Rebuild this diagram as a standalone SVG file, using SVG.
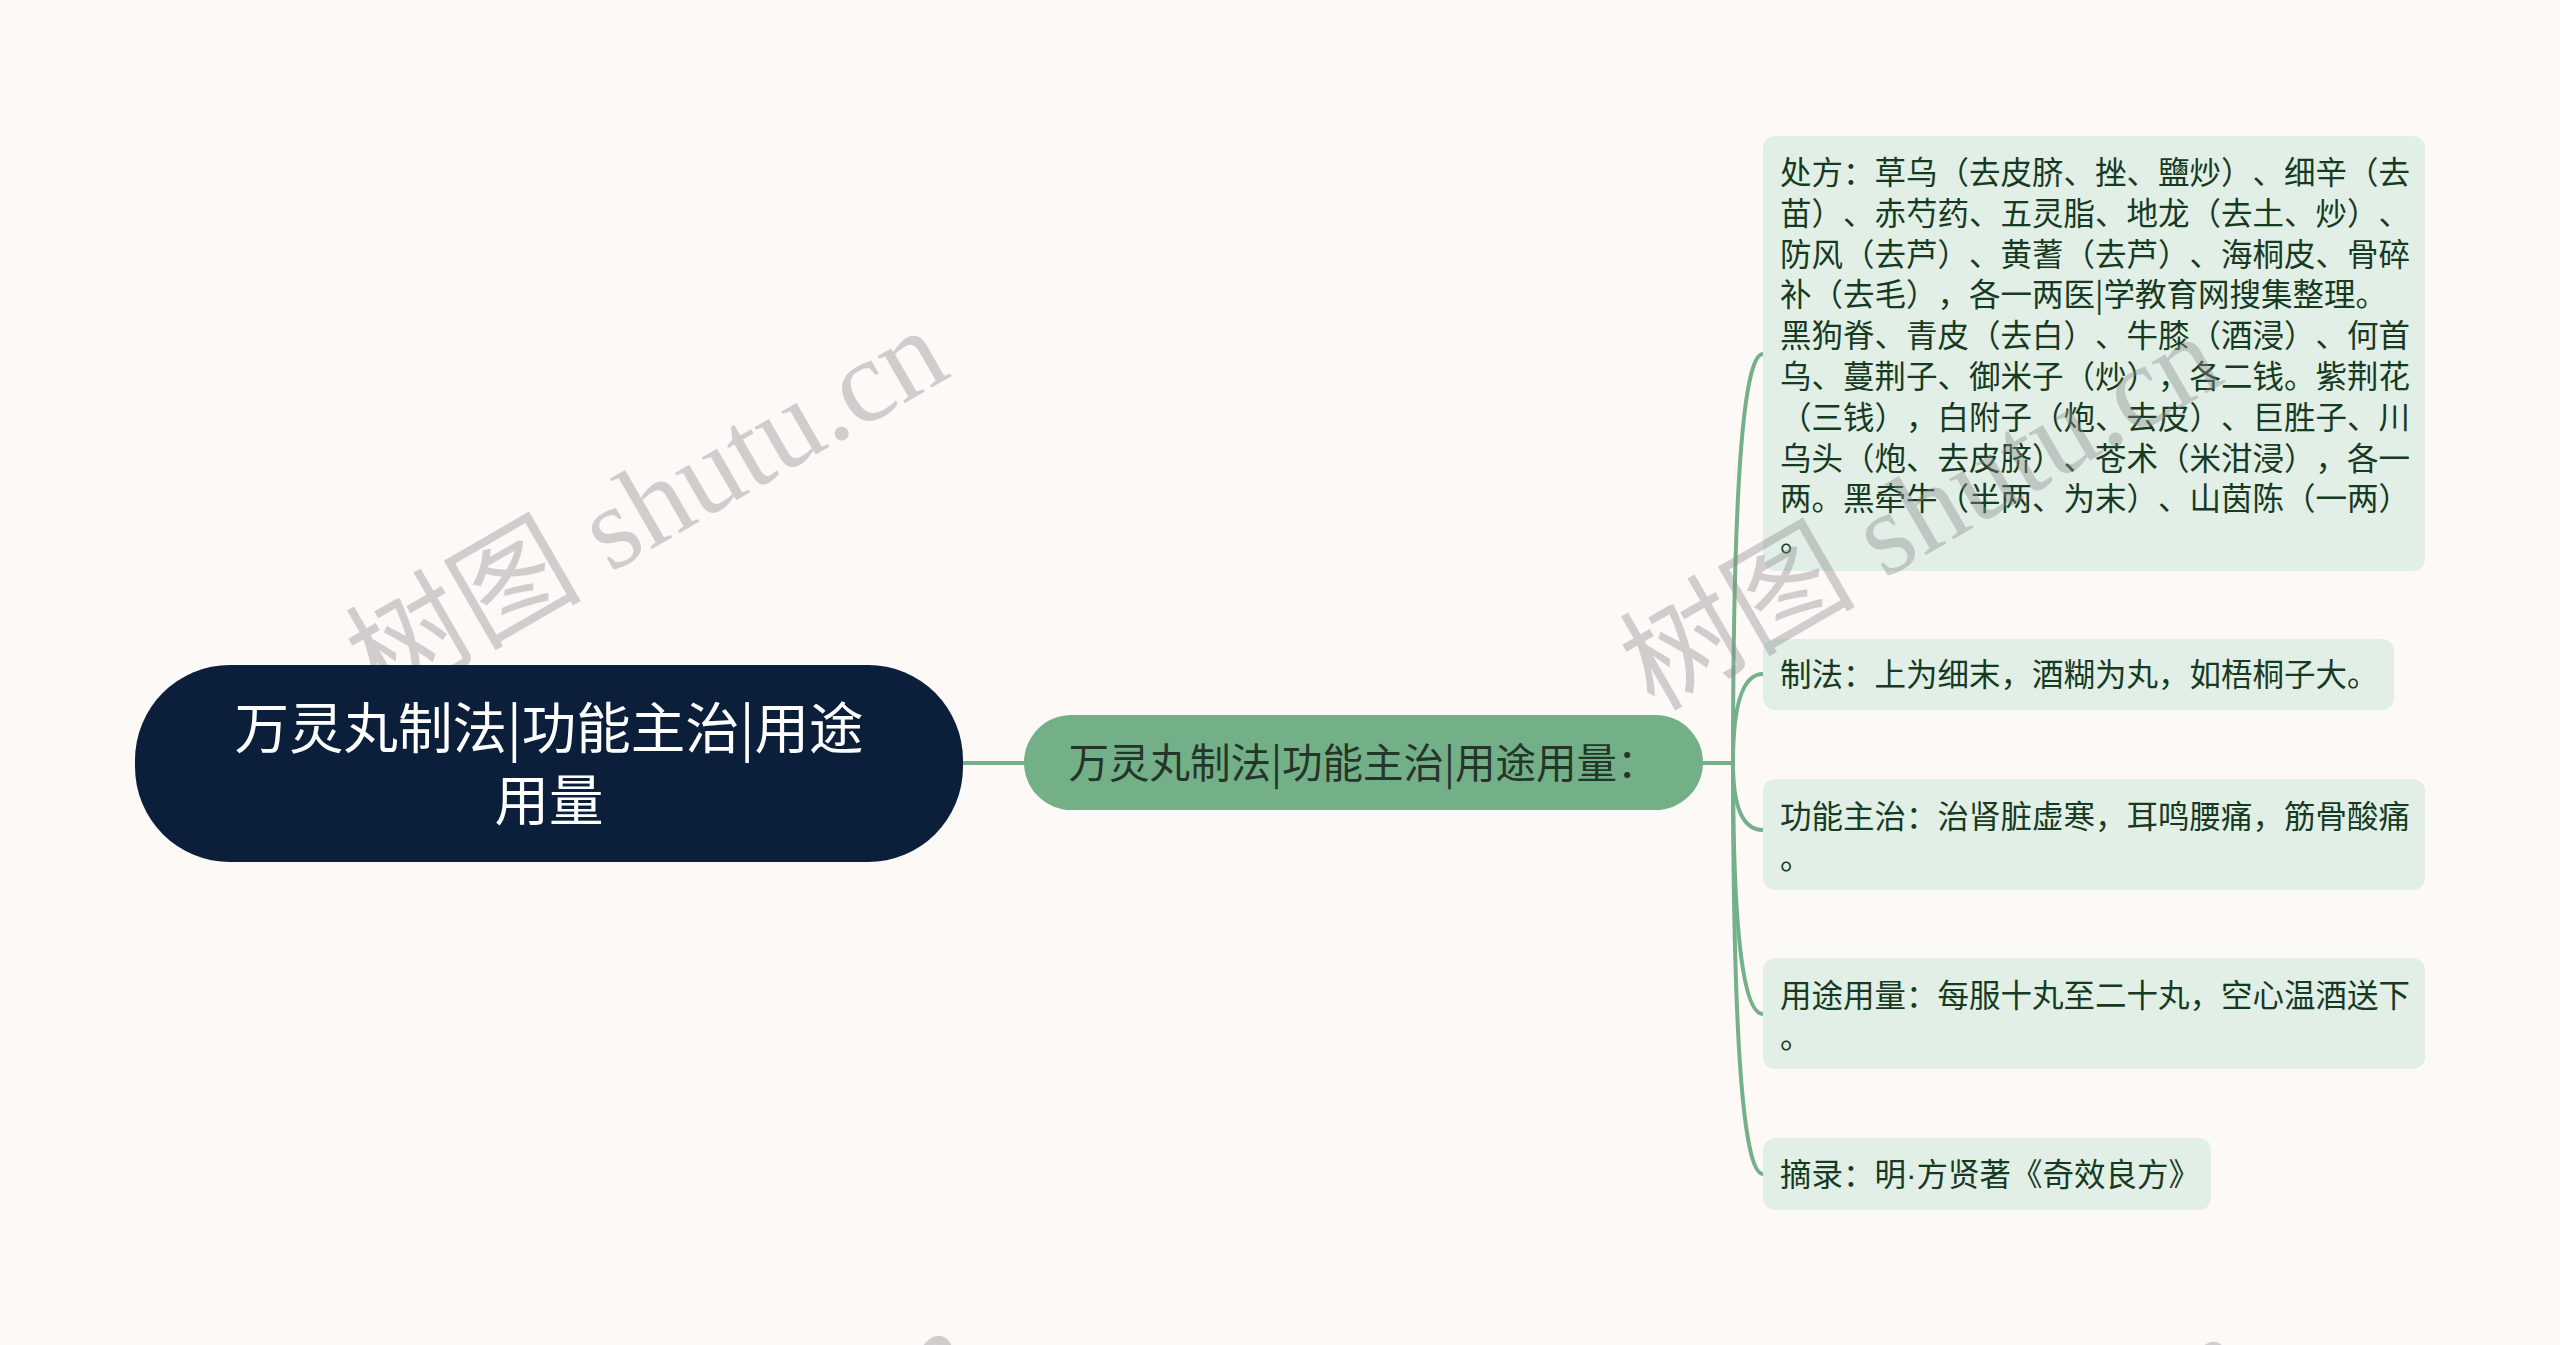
<svg xmlns="http://www.w3.org/2000/svg" width="2560" height="1345" viewBox="0 0 2560 1345">
<style>
.cjk{font-family:"Noto Sans CJK SC","Liberation Sans",sans-serif;text-spacing-trim:space-all;}
.leaf rect{fill:#e1efe6;}
.leaf text{font-size:31.5px;fill:#173a22;}
.conn{fill:none;stroke:#74b08a;stroke-width:4;stroke-linecap:round;}
.wm{font-family:"Liberation Serif","Noto Sans CJK SC",serif;font-size:118px;fill:#8c8c8c;fill-opacity:0.4;}
.lat{font-family:"Liberation Sans",sans-serif;}
</style>
<rect x="0" y="0" width="2560" height="1345" fill="#fdf9f7"/>
<g id="connectors">
<path class="conn" d="M963 763 L1024 763"/>
<path class="conn" d="M1703 763 L1733 763"/>
<path class="conn" d="M1733 763 Q1733 354 1763 354"/>
<path class="conn" d="M1733 763 Q1733 674 1763 674"/>
<path class="conn" d="M1733 763 Q1733 830 1763 830"/>
<path class="conn" d="M1733 763 Q1733 1014 1763 1014"/>
<path class="conn" d="M1733 763 Q1733 1174 1763 1174"/>
</g>
<g id="node-chufang" class="leaf cjk">
<rect x="1763" y="136" width="662" height="435" rx="12"/>
<text x="1780" y="184">处方：草乌（去皮脐、挫、鹽炒）、细辛（去</text>
<text x="1780" y="224.8">苗）、赤芍药、五灵脂、地龙（去土、炒）、</text>
<text x="1780" y="265.6">防风（去芦）、黄蓍（去芦）、海桐皮、骨碎</text>
<text x="1780" y="306.4">补（去毛），各一两医|学教育网搜集整理。</text>
<text x="1780" y="347.2">黑狗脊、青皮（去白）、牛膝（酒浸）、何首</text>
<text x="1780" y="388">乌、蔓荆子、御米子（炒），各二钱。紫荆花</text>
<text x="1780" y="428.8">（三钱），白附子（炮、去皮）、巨胜子、川</text>
<text x="1780" y="469.6">乌头（炮、去皮脐）、苍术（米泔浸），各一</text>
<text x="1780" y="510.4">两。黑牵牛（半两、为末）、山茵陈（一两）</text>
<text x="1780" y="551.2">。</text>
</g>
<g id="node-zhifa" class="leaf cjk">
<rect x="1763" y="639" width="631" height="71" rx="12"/>
<text x="1780" y="686">制法：上为细末，酒糊为丸，如梧桐子大。</text>
</g>
<g id="node-gongneng" class="leaf cjk">
<rect x="1763" y="779" width="662" height="111" rx="12"/>
<text x="1780" y="828">功能主治：治肾脏虚寒，耳鸣腰痛，筋骨酸痛</text>
<text x="1780" y="868.8">。</text>
</g>
<g id="node-yongtu" class="leaf cjk">
<rect x="1763" y="958" width="662" height="111" rx="12"/>
<text x="1780" y="1007">用途用量：每服十丸至二十丸，空心温酒送下</text>
<text x="1780" y="1047.8">。</text>
</g>
<g id="node-zhailu" class="leaf cjk">
<rect x="1763" y="1138" width="448" height="72" rx="12"/>
<text x="1780" y="1186">摘录：明<tspan class="lat">·</tspan>方贤著《奇效良方》</text>
</g>
<g id="node-main" class="cjk">
<rect x="1024" y="715" width="679" height="95" rx="47.5" fill="#73b088"/>
<text x="1363" y="778" font-size="40.5" fill="#26352a" text-anchor="middle">万灵丸制法|功能主治|用途用量：</text>
</g>
<g id="watermarks">
<text class="wm" transform="translate(380 706) rotate(-30)">树图 shutu.cn</text>
<text class="wm" transform="translate(1654 712) rotate(-30)">树图 shutu.cn</text>
<text class="wm" transform="translate(405 1706) rotate(-30)">树图 shutu.cn</text>
<text class="wm" transform="translate(1680 1712) rotate(-30)">树图 shutu.cn</text>
</g>
<g id="node-root" class="cjk">
<rect x="135" y="665" width="828" height="197" rx="95" fill="#0c1f3a"/>
<text x="549" y="748" font-size="54.5" fill="#ffffff" text-anchor="middle">万灵丸制法|功能主治|用途</text>
<text x="549" y="820" font-size="54.5" fill="#ffffff" text-anchor="middle">用量</text>
</g>
</svg>
